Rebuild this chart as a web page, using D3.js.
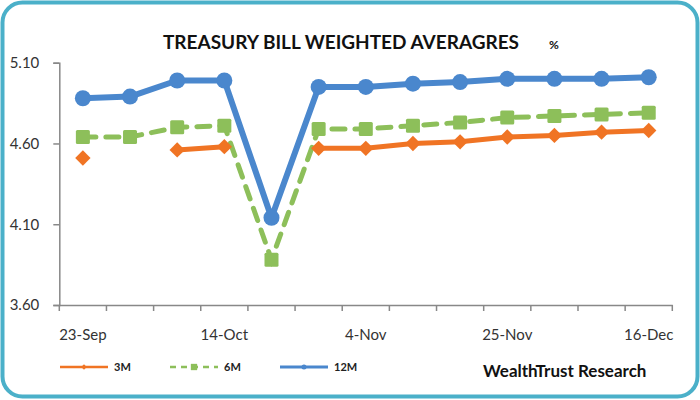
<!DOCTYPE html>
<html>
<head>
<meta charset="utf-8">
<script src="https://cdn.jsdelivr.net/npm/d3@7"></script>
<style>
  body { margin: 0; background: #fff; }
  svg { display: block; }
</style>
</head>
<body>
<div id="chart"></div>
<script>
// weekly auction dates
let dates = ["23-Sep", "30-Sep", "7-Oct", "14-Oct", "21-Oct", "28-Oct", "4-Nov",
             "11-Nov", "18-Nov", "25-Nov", "2-Dec", "9-Dec", "16-Dec"];
let shownLabels = ["23-Sep", "14-Oct", "4-Nov", "25-Nov", "16-Dec"];
let yTicks = [3.60, 4.10, 4.60, 5.10];

// weighted averages (%), null = no auction
let m3  = [4.51, null, 4.56, 4.58, null, 4.57, 4.57, 4.60, 4.61, 4.64, 4.65, 4.67, 4.68];
let m6  = [4.64, 4.64, 4.70, 4.71, 3.88, 4.69, 4.69, 4.71, 4.73, 4.76, 4.77, 4.78, 4.79];
let m12 = [4.88, 4.89, 4.99, 4.99, 4.14, 4.95, 4.95, 4.97, 4.98, 5.00, 5.00, 5.00, 5.01];

let seriesNames = ["3M", "6M", "12M"];

let width = 700, height = 400;

let svg = d3.select("#chart").append("svg")
    .attr("width", width)
    .attr("height", height);

// frame
svg.append("rect")
    .attr("x", 2.5).attr("y", 2.5)
    .attr("width", width - 5).attr("height", height - 6)
    .attr("rx", 20).attr("ry", 20)
    .attr("fill", "#fff")
    .attr("stroke", "#4bb0c9")
    .attr("stroke-width", 4);

let x = d3.scaleBand()
    .domain(dates)
    .range([59.3, 672.3])
    .padding(0);

let y = d3.scaleLinear()
    .domain([3.6, 5.1])
    .range([305, 62.7]);

let font = "Lato, 'Open Sans', sans-serif";

// title
svg.append("text")
    .attr("x", 341).attr("y", 49)
    .attr("text-anchor", "middle")
    .attr("font-family", font)
    .attr("font-weight", "bold")
    .attr("font-size", 19)
    .attr("fill", "#111")
    .text("TREASURY BILL WEIGHTED AVERAGRES");
svg.append("text")
    .attr("x", 554).attr("y", 49)
    .attr("text-anchor", "middle")
    .attr("font-family", font)
    .attr("font-weight", "bold")
    .attr("font-size", 12)
    .attr("fill", "#111")
    .text("%");

// y axis
let yAxis = svg.append("g")
    .attr("transform", "translate(59.3,0)")
    .call(d3.axisLeft(y).tickValues(yTicks).tickFormat(d3.format(".2f")).tickSize(6).tickPadding(14));
yAxis.select(".domain").attr("stroke", "#888").attr("stroke-width", 1.5);
yAxis.selectAll(".tick line").attr("stroke", "#888").attr("stroke-width", 1.5);
yAxis.selectAll("text")
    .attr("font-family", font)
    .attr("font-size", 15)
    .attr("fill", "#333");

// x axis: labels centred, ticks between categories
let xAxis = svg.append("g")
    .attr("transform", "translate(0,305)")
    .call(d3.axisBottom(x).tickSize(0).tickPadding(24)
        .tickFormat(d => shownLabels.includes(d) ? d : ""));
xAxis.select(".domain").attr("stroke", "#888").attr("stroke-width", 1.5);
xAxis.selectAll("text")
    .attr("font-family", font)
    .attr("font-size", 15)
    .attr("fill", "#333");

let edges = dates.map(d => x(d)).concat([x(dates[dates.length - 1]) + x.bandwidth()]);
svg.append("g").selectAll("line")
    .data(edges)
    .enter().append("line")
    .attr("x1", d => d).attr("x2", d => d)
    .attr("y1", 305).attr("y2", 311)
    .attr("stroke", "#888")
    .attr("stroke-width", 1.5);

let cx = (d, i) => x(dates[i]) + x.bandwidth() / 2;

let line = d3.line()
    .defined(d => d != null)
    .x((d, i) => cx(d, i))
    .y(d => y(d));

let colors = {"3M": "#f07424", "6M": "#8dbf5a", "12M": "#4a87cd"};

// 6M dashed with squares
svg.append("path")
    .datum(m6)
    .attr("d", line)
    .attr("fill", "none")
    .attr("stroke", colors["6M"])
    .attr("stroke-width", 5)
    .attr("stroke-linecap", "round")
    .attr("stroke-dasharray", "13,10");
svg.append("g").selectAll("rect")
    .data(m6)
    .enter().append("rect")
    .attr("x", (d, i) => cx(d, i) - 7)
    .attr("y", d => y(d) - 7)
    .attr("width", 14).attr("height", 14)
    .attr("rx", 1.5)
    .attr("fill", colors["6M"]);

// 3M with diamonds
svg.append("path")
    .datum(m3)
    .attr("d", line)
    .attr("fill", "none")
    .attr("stroke", colors["3M"])
    .attr("stroke-width", 5);
svg.append("g").selectAll("path")
    .data(m3.map((d, i) => [d, i]).filter(p => p[0] != null))
    .enter().append("path")
    .attr("d", d3.symbol().type(d3.symbolDiamond2).size(150))
    .attr("transform", p => "translate(" + cx(p[0], p[1]) + "," + y(p[0]) + ")")
    .attr("fill", colors["3M"]);

// 12M with circles
svg.append("path")
    .datum(m12)
    .attr("d", line)
    .attr("fill", "none")
    .attr("stroke", colors["12M"])
    .attr("stroke-width", 6)
    .attr("stroke-linejoin", "round");
svg.append("g").selectAll("circle")
    .data(m12)
    .enter().append("circle")
    .attr("cx", (d, i) => cx(d, i))
    .attr("cy", d => y(d))
    .attr("r", 8)
    .attr("fill", colors["12M"]);

// legend
let legendX = [60, 170, 280];
let legend = svg.append("g").selectAll("g")
    .data(seriesNames)
    .enter().append("g")
    .attr("transform", (d, i) => "translate(" + legendX[i] + ",367)");

legend.append("line")
    .attr("x1", 0).attr("x2", 48)
    .attr("stroke", d => colors[d])
    .attr("stroke-width", d => d === "12M" ? 3 : 2.5)
    .attr("stroke-dasharray", d => d === "6M" ? "6,5" : null);
legend.append("path")
    .attr("d", d => d3.symbol()
        .type(d === "3M" ? d3.symbolDiamond2 : d === "6M" ? d3.symbolSquare : d3.symbolCircle)
        .size(d === "6M" ? 40 : 20)())
    .attr("transform", "translate(24,0)")
    .attr("fill", d => colors[d]);
legend.append("text")
    .attr("x", 54).attr("y", 4)
    .attr("font-family", font)
    .attr("font-weight", "bold")
    .attr("font-size", 11)
    .attr("fill", "#222")
    .text(d => d);

svg.append("text")
    .attr("x", 483).attr("y", 377)
    .attr("font-family", font)
    .attr("font-weight", "bold")
    .attr("font-size", 17)
    .attr("fill", "#111")
    .text("WealthTrust Research");
</script>
</body>
</html>
